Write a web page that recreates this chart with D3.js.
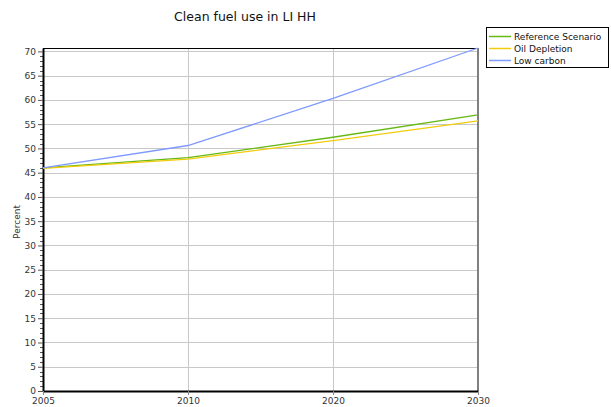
<!DOCTYPE html>
<html><head><meta charset="utf-8">
<script src="https://cdn.jsdelivr.net/npm/d3@7"></script>
<style>body{margin:0;background:#fff}svg{display:block}text{font-family:"DejaVu Sans",Verdana,sans-serif}</style>
</head><body><svg id="c" width="611" height="407"></svg>
<script>
const years = ["2005","2010","2020","2030"];
const refScenario = [46.0, 48.1, 52.3, 56.9];
const oilDepletion = [45.9, 47.8, 51.6, 55.7];
const lowCarbon = [46.0, 50.6, 60.3, 70.7];
const yTicks = [0,5,10,15,20,25,30,35,40,45,50,55,60,65,70];
const seriesNames = ["Reference Scenario","Oil Depletion","Low carbon"];
const seriesColors = ["#66b814","#f2cc0c","#7f99ff"];
const seriesData = [refScenario, oilDepletion, lowCarbon];

const svg = d3.select("#c");
const L=43,R=478,T=48,B=391;
const x = d3.scalePoint().domain(years).range([L,R]);
const y = d3.scaleLinear().domain([0,70.7]).range([B,T]);

svg.append("text").attr("x",245).attr("y",21).attr("text-anchor","middle")
  .attr("font-size",12.5).attr("fill","#111").text("Clean fuel use in LI HH");

// grid
svg.append("g").selectAll("line").data(yTicks.filter(d=>d>0)).join("line")
  .attr("x1",L).attr("x2",R).attr("y1",d=>Math.round(y(d))+0.5).attr("y2",d=>Math.round(y(d))+0.5)
  .attr("stroke","#c8c8c8").attr("stroke-width",1);
svg.append("g").selectAll("line").data(years.slice(1,3)).join("line")
  .attr("x1",d=>Math.round(x(d))+0.5).attr("x2",d=>Math.round(x(d))+0.5).attr("y1",T).attr("y2",B)
  .attr("stroke","#c8c8c8").attr("stroke-width",1);

// borders
svg.append("line").attr("x1",L).attr("x2",R).attr("y1",T+0.5).attr("y2",T+0.5).attr("stroke","#000");
svg.append("line").attr("x1",R).attr("x2",R).attr("y1",T).attr("y2",B).attr("stroke","#808080").attr("stroke-width",2);

// minor y ticks
const minor = d3.range(0,71,1).filter(d=>d%5!==0);
svg.append("g").selectAll("line").data(minor).join("line")
  .attr("x1",L-3).attr("x2",L).attr("y1",d=>Math.round(y(d))+0.5).attr("y2",d=>Math.round(y(d))+0.5)
  .attr("stroke","#555");

// axes
const ya = svg.append("g").attr("transform",`translate(${L},0)`)
  .call(d3.axisLeft(y).tickValues(yTicks).tickSize(5).tickSizeOuter(0).tickPadding(2));
ya.select(".domain").attr("stroke","#000").attr("stroke-width",2);
ya.selectAll(".tick line").attr("stroke","#555");
ya.selectAll("text").attr("font-size",9).attr("fill","#333").attr("font-family","DejaVu Sans");

const xa = svg.append("g").attr("transform",`translate(0,${B})`)
  .call(d3.axisBottom(x).tickSize(4).tickSizeOuter(0).tickPadding(3));
xa.select(".domain").attr("stroke","#000").attr("stroke-width",2);
xa.selectAll(".tick line").attr("stroke","#888");
xa.selectAll("text").attr("font-size",9).attr("fill","#333").attr("font-family","DejaVu Sans");

svg.append("text").attr("transform","translate(20,222) rotate(-90)").attr("text-anchor","middle")
  .attr("font-size",9).attr("fill","#333").text("Percent");

// lines
const line = d3.line().x((d,i)=>x(years[i])).y(d=>y(d));
seriesData.forEach((s,i)=>{
  svg.append("path").datum(s).attr("d",line).attr("fill","none")
    .attr("stroke",seriesColors[i]).attr("stroke-width",1.3);
});

// legend
const lg = svg.append("g");
lg.append("rect").attr("x",486.5).attr("y",27.5).attr("width",122).attr("height",40)
  .attr("fill","#fff").attr("stroke","#000");
seriesNames.forEach((n,i)=>{
  const yy = 36 + i*12;
  lg.append("line").attr("x1",489).attr("x2",511).attr("y1",yy+0.5).attr("y2",yy+0.5)
    .attr("stroke",seriesColors[i]).attr("stroke-width",1.5);
  lg.append("text").attr("x",514).attr("y",yy+3.5).attr("font-size",9).attr("fill","#111").text(n);
});
</script></body></html>
